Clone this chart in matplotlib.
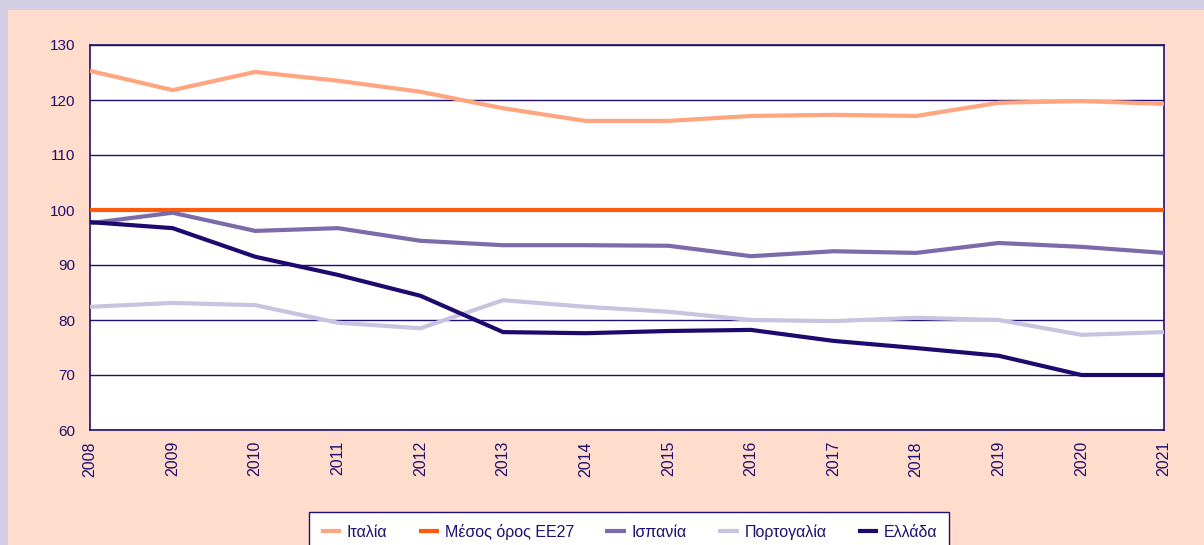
import matplotlib.pyplot as plt
import matplotlib.patches as mpatches

# Données
annees = list(range(2008, 2022))
italia = [125.3, 121.8, 125.1, 123.5, 121.5, 118.5, 116.2, 116.2, 117.1, 117.3, 117.1, 119.5, 119.8, 119.3]
ee27 = [100] * len(annees)
ispania = [97.6, 99.5, 96.2, 96.7, 94.4, 93.6, 93.6, 93.5, 91.6, 92.5, 92.2, 94.0, 93.3, 92.2]
portogalia = [82.4, 83.1, 82.7, 79.5, 78.5, 83.6, 82.4, 81.5, 80.0, 79.8, 80.4, 80.0, 77.3, 77.8]
ellada = [97.8, 96.7, 91.5, 88.2, 84.4, 77.8, 77.6, 78.0, 78.2, 76.2, 74.9, 73.5, 70.0, 70.0]

series = [
    ('Ιταλία', italia, '#ffa57f'),
    ('Μέσος όρος ΕΕ27', ee27, '#ff5a0a'),
    ('Ισπανία', ispania, '#7b6baa'),
    ('Πορτογαλία', portogalia, '#c8c3de'),
    ('Ελλάδα', ellada, '#1e0a6e'),
]

navy = '#1f0f6e'
plt.rcParams['font.family'] = ['Liberation Sans', 'DejaVu Sans']
plt.rcParams['font.size'] = 11

fig = plt.figure(figsize=(12.04, 5.45), dpi=100)
fig.patch.set_facecolor('#d4cfe5')
# Cadre pêche
fig.patches.append(mpatches.Rectangle((8 / 1204, 0), 1, 1 - 10 / 545, transform=fig.transFigure,
                                      facecolor='#ffdccc', edgecolor='none', zorder=-5))

ax = fig.add_axes([90 / 1204, 1 - 430 / 545, (1164 - 90) / 1204, (430 - 45) / 545])
ax.set_facecolor('white')

for nom, vals, couleur in series:
    ax.plot(annees, vals, color=couleur, lw=3, label=nom, solid_capstyle='butt', zorder=3)

ax.set_xlim(2008, 2021)
ax.set_ylim(60, 130)
ax.set_yticks(range(60, 131, 10))
ax.set_xticks(annees)
ax.set_xticklabels([str(a) for a in annees], rotation=90, color=navy, fontsize=11.5)
ax.tick_params(axis='y', colors=navy, length=0, pad=10.5, labelsize=11)
ax.tick_params(axis='x', colors=navy, length=0, pad=8)
for lab in ax.get_yticklabels():
    lab.set_color(navy)

ax.grid(axis='y', color=navy, lw=1.0, zorder=1)
for s in ax.spines.values():
    s.set_color(navy)
    s.set_linewidth(1.2)

leg = fig.legend(loc='upper center', bbox_to_anchor=(629 / 1204, 1 - 512 / 545), ncol=5,
                 frameon=True, fancybox=False, edgecolor=navy, facecolor='white', framealpha=1,
                 fontsize=11.5, handlelength=1.3, columnspacing=1.95, handletextpad=0.35,
                 borderpad=0.75, borderaxespad=0)
leg.get_frame().set_linewidth(1.0)
for t in leg.get_texts():
    t.set_color(navy)

plt.savefig('out.png', dpi=100, facecolor=fig.get_facecolor())
